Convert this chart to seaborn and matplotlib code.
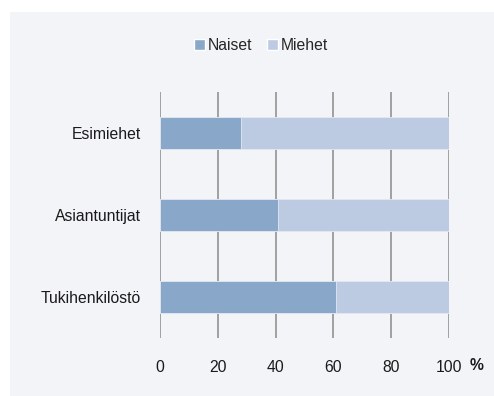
import matplotlib
matplotlib.use("Agg")
import matplotlib.pyplot as plt
from matplotlib.patches import Rectangle, Patch
import seaborn as sns
import pandas as pd

categories = ["Esimiehet", "Asiantuntijat", "Tukihenkilöstö"]
naiset = [28, 41, 61]
miehet = [72, 59, 39]
xticks = [0, 20, 40, 60, 80, 100]

sns.set_theme(style="white")
plt.rcParams["font.family"] = ["Liberation Sans", "DejaVu Sans"]

C_NAISET = "#88a7c9"
C_MIEHET = "#bccbe2"
BG = "#f3f4f8"
GRID = "#8a8a8a"
FS = 11.3

W, H = 494, 396
fig = plt.figure(figsize=(W / 100, H / 100), dpi=100, facecolor="white")
fig.patches.append(Rectangle((10 / W, 0), 1 - 10 / W, (H - 12) / H,
                             transform=fig.transFigure, facecolor=BG,
                             edgecolor="none", zorder=-10))

ax = fig.add_axes([160 / W, (H - 338) / H, (449 - 160) / W, (338 - 92) / H])
ax.set_facecolor("none")

df = pd.DataFrame({"ryhma": categories, "Naiset": naiset, "Miehet": miehet})
df["yhteensa"] = df["Naiset"] + df["Miehet"]

sns.barplot(data=df, x="yhteensa", y="ryhma", orient="h", color=C_MIEHET,
            width=0.39, saturation=1, edgecolor="#e4e9f2", linewidth=0.6,
            ax=ax, zorder=2)
sns.barplot(data=df, x="Naiset", y="ryhma", orient="h", color=C_NAISET,
            width=0.39, saturation=1, edgecolor="#e4e9f2", linewidth=0.6,
            ax=ax, zorder=3)

ax.set_xlim(0, 100)
ax.set_ylim(2.5, -0.5)
ax.set_xticks(xticks)
ax.set_xticklabels([str(t) for t in xticks], fontsize=FS, color="#1a1a1a")
ax.tick_params(axis="x", length=7, width=1.1, color=GRID, pad=9)
ax.tick_params(axis="y", length=0, pad=14, labelsize=FS, labelcolor="#1a1a1a")
ax.set_xlabel("")
ax.set_ylabel("")
for t in xticks:
    ax.axvline(t, color=GRID, lw=1.1, zorder=1)
for s in ax.spines.values():
    s.set_visible(False)

fig.text(477 / W, 1 - 365 / H, "%", fontsize=FS, fontweight="bold",
         ha="center", va="center", color="#1a1a1a")

handles = [Patch(facecolor=C_NAISET, label="Naiset"),
           Patch(facecolor=C_MIEHET, label="Miehet")]
fig.legend(handles=handles, loc="center", bbox_to_anchor=(261 / W, 1 - 45 / H),
           ncol=2, frameon=False, fontsize=FS, handlelength=0.7,
           handleheight=0.7, handletextpad=0.2, columnspacing=0.9)

fig.savefig("out.png", dpi=100, facecolor="white")
